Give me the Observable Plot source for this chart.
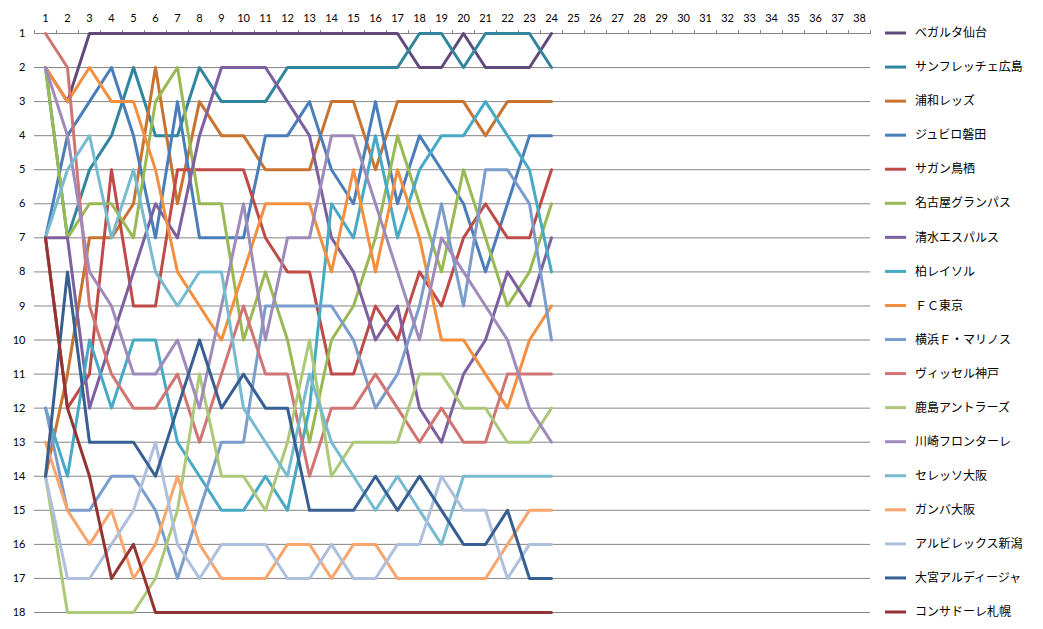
<!DOCTYPE html>
<html>
<head>
<meta charset="utf-8">
<script src="https://cdn.jsdelivr.net/npm/d3@7"></script>
<script src="https://cdn.jsdelivr.net/npm/@observablehq/plot@0.6"></script>
<style>
  body { margin: 0; background: #fff; }
  #chart { width: 1043px; height: 629px; }
</style>
</head>
<body>
<div id="chart"></div>
<script>
// J1 standings, rounds 1-24: rank of each club after every round
const rounds = d3.range(1, 25);
const roundTicks = d3.range(1, 39);
const rankTicks = d3.range(1, 19);

const teams = [
  "ベガルタ仙台", "サンフレッチェ広島", "浦和レッズ", "ジュビロ磐田", "サガン鳥栖",
  "名古屋グランパス", "清水エスパルス", "柏レイソル", "ＦＣ東京", "横浜Ｆ・マリノス",
  "ヴィッセル神戸", "鹿島アントラーズ", "川崎フロンターレ", "セレッソ大阪", "ガンバ大阪",
  "アルビレックス新潟", "大宮アルディージャ", "コンサドーレ札幌"
];

const colors = [
  "#604a7b", "#31859c", "#c8732f", "#4a7ebb", "#be4b48", "#98b954",
  "#7d60a0", "#46aac5", "#f38f3f", "#7a9dcc", "#d17572", "#adc878",
  "#9e8bbb", "#78bbd0", "#f8a66e", "#aec0dc", "#375f92", "#933432"
];

const sendai    = [2, 3, 1, 1, 1, 1, 1, 1, 1, 1, 1, 1, 1, 1, 1, 1, 1, 2, 2, 1, 2, 2, 2, 1];
const hiroshima = [2, 7, 5, 4, 2, 4, 4, 2, 3, 3, 3, 2, 2, 2, 2, 2, 2, 1, 1, 2, 1, 1, 1, 2];
const urawa     = [14, 11, 7, 7, 6, 2, 6, 3, 4, 4, 5, 5, 5, 3, 3, 5, 3, 3, 3, 3, 4, 3, 3, 3];
const iwata     = [7, 4, 3, 2, 4, 7, 3, 7, 7, 7, 4, 4, 3, 5, 6, 3, 6, 4, 5, 6, 8, 6, 4, 4];
const tosu      = [7, 12, 11, 5, 9, 9, 5, 5, 5, 5, 7, 8, 8, 11, 11, 9, 10, 8, 9, 7, 6, 7, 7, 5];
const nagoya    = [2, 7, 6, 6, 7, 3, 2, 6, 6, 10, 8, 10, 13, 10, 9, 7, 4, 6, 8, 5, 7, 9, 8, 6];
const shimizu   = [7, 7, 12, 10, 8, 6, 7, 4, 2, 2, 2, 3, 4, 7, 8, 10, 9, 12, 13, 11, 10, 8, 9, 7];
const kashiwa   = [12, 14, 10, 12, 10, 10, 13, 14, 15, 15, 14, 15, 12, 6, 7, 4, 7, 5, 4, 4, 3, 4, 5, 8];
const tokyo     = [2, 3, 2, 3, 3, 5, 8, 9, 10, 8, 6, 6, 6, 8, 5, 8, 5, 7, 10, 10, 11, 12, 10, 9];
const yokohama  = [12, 15, 15, 14, 14, 15, 17, 15, 13, 13, 9, 9, 9, 9, 10, 12, 11, 9, 6, 9, 5, 5, 6, 10];
const kobe      = [1, 2, 9, 11, 12, 12, 11, 13, 11, 9, 11, 11, 14, 12, 12, 11, 12, 13, 12, 13, 13, 11, 11, 11];
const kashima   = [14, 18, 18, 18, 18, 17, 15, 11, 14, 14, 15, 13, 10, 14, 13, 13, 13, 11, 11, 12, 12, 13, 13, 12];
const kawasaki  = [2, 4, 8, 9, 11, 11, 10, 12, 9, 6, 10, 7, 7, 4, 4, 6, 8, 10, 7, 8, 9, 10, 12, 13];
const cerezo    = [7, 5, 4, 7, 5, 8, 9, 8, 8, 12, 13, 14, 11, 13, 14, 15, 14, 15, 16, 14, 14, 14, 14, 14];
const gamba     = [13, 15, 16, 15, 17, 16, 14, 16, 17, 17, 17, 16, 16, 17, 16, 16, 17, 17, 17, 17, 17, 16, 15, 15];
const niigata   = [14, 17, 17, 16, 15, 13, 16, 17, 16, 16, 16, 17, 17, 16, 17, 17, 16, 16, 14, 15, 15, 17, 16, 16];
const omiya     = [14, 8, 13, 13, 13, 14, 12, 10, 12, 11, 12, 12, 15, 15, 15, 14, 15, 14, 15, 16, 16, 15, 17, 17];
const sapporo   = [7, 12, 14, 17, 16, 18, 18, 18, 18, 18, 18, 18, 18, 18, 18, 18, 18, 18, 18, 18, 18, 18, 18, 18];

const ranksByTeam = [
  sendai, hiroshima, urawa, iwata, tosu, nagoya, shimizu, kashiwa, tokyo,
  yokohama, kobe, kashima, kawasaki, cerezo, gamba, niigata, omiya, sapporo
];

// long table: one row per club per round
const rows = teams.flatMap((team, i) =>
  ranksByTeam[i].map((rank, j) => ({team, round: rounds[j], rank}))
);

const numberFont = "Lato, 'Liberation Sans', sans-serif";
const jpFont = "'Noto Sans CJK JP', 'Noto Sans', sans-serif";

const chart = Plot.plot({
  width: 1043,
  height: 629,
  marginLeft: 34,
  marginRight: 173,
  marginTop: 33,
  marginBottom: 17,
  x: {domain: [0.5, 38.5], axis: null},
  y: {domain: [1, 18], reverse: true, axis: null},
  color: {domain: teams, range: colors},
  style: {fontFamily: numberFont, fontSize: "11px", color: "#000", background: "#fff", overflow: "visible"},
  marks: [
    // horizontal gridlines at each rank
    Plot.ruleY(rankTicks, {x1: 0.5, x2: 38.5, stroke: "#868686", strokeWidth: 1, strokeOpacity: 1}),
    // top category axis: tick marks between rounds, labels on rounds
    Plot.axisX({anchor: "top", label: null, ticks: d3.range(0.5, 39, 1), tickSize: 4, tickFormat: () => "", stroke: "#868686", strokeOpacity: 1}),
    Plot.axisX({anchor: "top", label: null, ticks: roundTicks, tickSize: 0, tickPadding: 12, tickFormat: d => String(d), fill: "#000"}),
    // rank axis
    Plot.axisY({anchor: "left", label: null, ticks: rankTicks, tickSize: 0, tickPadding: 9, tickFormat: d => String(d), fill: "#000"}),
    // one line per club
    Plot.line(rows, {x: "round", y: "rank", z: "team", stroke: "team", strokeWidth: 3})
  ]
});

document.getElementById("chart").appendChild(chart);

// legend on the right, one entry per rank row
const y = chart.scale("y");
const legend = d3.select(chart).append("g")
  .attr("font-family", jpFont)
  .attr("font-size", 12)
  .attr("text-anchor", "start")
  .attr("fill", "#000");
teams.forEach((team, i) => {
  const yy = y.apply(i + 1);
  legend.append("line")
    .attr("x1", 885).attr("x2", 906)
    .attr("y1", yy).attr("y2", yy)
    .attr("stroke", colors[i]).attr("stroke-width", 3);
  legend.append("text")
    .attr("x", 915).attr("y", yy).attr("dy", "0.35em")
    .text(team);
});
</script>
</body>
</html>
